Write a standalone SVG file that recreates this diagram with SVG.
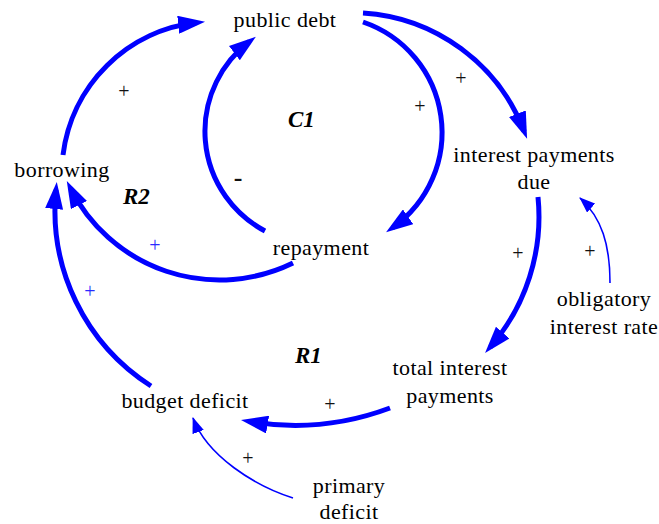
<svg xmlns="http://www.w3.org/2000/svg" width="659" height="524" viewBox="0 0 659 524">
<style>
text{font-family:'Liberation Serif','Tinos','DejaVu Serif','Noto Serif',serif}
.n{font-size:22px;letter-spacing:0.4px;text-anchor:middle;fill:#000}
.loop{font-size:23px;font-weight:bold;font-style:italic;fill:#000}
.p{font-size:20px;text-anchor:middle;fill:#111}
.pb{font-size:20px;text-anchor:middle;fill:#2a2aff}
.thick{fill:none;stroke:#0000ff;stroke-width:5;marker-end:url(#ah)}
.thin{fill:none;stroke:#0000ff;stroke-width:1.6;marker-end:url(#ahs)}
</style>
<defs>
<marker id="ah" markerUnits="userSpaceOnUse" viewBox="0 0 27 18" markerWidth="27" markerHeight="18" refX="19" refY="9" orient="auto">
<path d="M0,0 L27,9 L0,18 z" fill="#0000ff"/>
</marker>
<marker id="ahs" markerUnits="userSpaceOnUse" viewBox="0 0 16 12" markerWidth="16" markerHeight="12" refX="15" refY="6" orient="auto">
<path d="M0,0 L16,6 L0,12 z" fill="#0000ff"/>
</marker>
</defs>
<rect width="659" height="524" fill="#fff"/>
<g id="connectors">
<path class="thick" d="M63,155 A152,152 0 0 1 197.1,22.6"/>
<path class="thick" d="M265,231 A112.7,112.7 0 0 1 249.5,41.6"/>
<path class="thick" d="M363,22 A116.6,116.6 0 0 1 392.6,227.7"/>
<path class="thick" d="M363,13 A185.1,185.1 0 0 1 524.2,131.4"/>
<path class="thick" d="M538,197 A199.1,199.1 0 0 1 490.3,347"/>
<path class="thick" d="M390,408 A271.7,271.7 0 0 1 248.9,421.4"/>
<path class="thick" d="M151,386 A208.2,208.2 0 0 1 56,190"/>
<path class="thick" d="M293,263 A167.1,167.1 0 0 1 70.4,188.1"/>
<path class="thin" d="M610,283 C610,245 602,218 580,198"/>
<path class="thin" d="M293,498 C255,486 207,456 193,418"/>
</g>
<g id="polarities">
<text class="p" x="124" y="98">+</text>
<text class="p" x="420" y="113">+</text>
<text class="p" x="461" y="85">+</text>
<text class="p" x="518" y="260">+</text>
<text class="p" x="590" y="258">+</text>
<text class="p" x="330" y="411">+</text>
<text class="p" x="248" y="465">+</text>
<text class="pb" x="155" y="252">+</text>
<text class="pb" x="90" y="298">+</text>
<text class="p" x="238" y="186" style="font-size:26px;font-weight:bold">-</text>
</g>
<g id="loops">
<text class="loop" x="288" y="127">C1</text>
<text class="loop" x="123" y="204">R2</text>
<text class="loop" x="295" y="363">R1</text>
</g>
<g id="public-debt"><text class="n" x="285" y="27">public debt</text></g>
<g id="interest-payments-due"><text class="n" x="534" y="162">interest payments</text><text class="n" x="534" y="189">due</text></g>
<g id="borrowing"><text class="n" x="62" y="177">borrowing</text></g>
<g id="repayment"><text class="n" x="321" y="255">repayment</text></g>
<g id="obligatory-interest-rate"><text class="n" x="604" y="306">obligatory</text><text class="n" x="604" y="334">interest rate</text></g>
<g id="total-interest-payments"><text class="n" x="450" y="375">total interest</text><text class="n" x="450" y="403">payments</text></g>
<g id="budget-deficit"><text class="n" x="185" y="408">budget deficit</text></g>
<g id="primary-deficit"><text class="n" x="349" y="493">primary</text><text class="n" x="349" y="519">deficit</text></g>
</svg>
